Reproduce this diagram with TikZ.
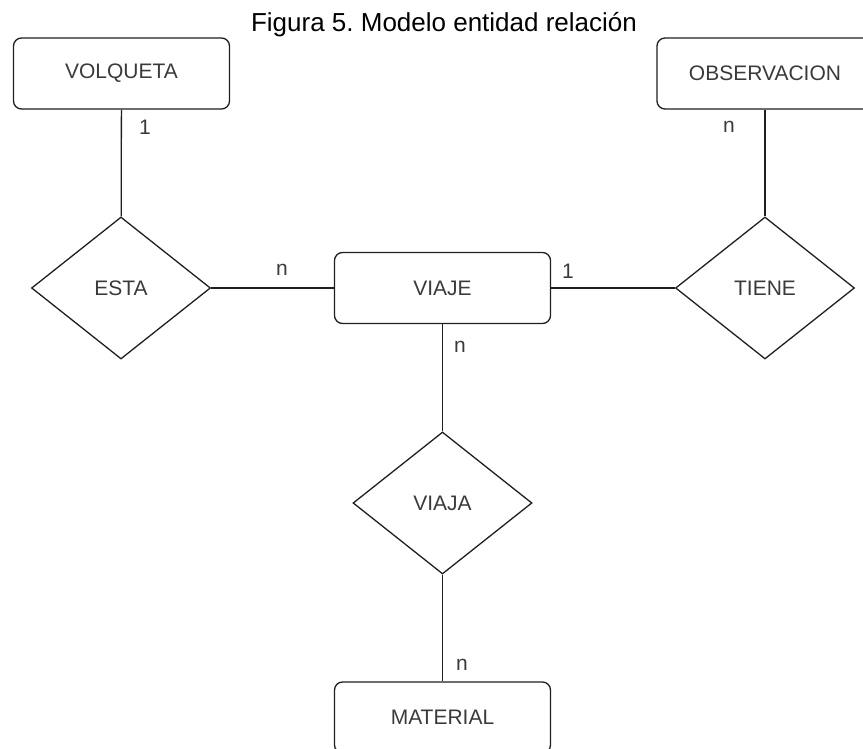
\documentclass[tikz,border=0pt]{standalone}
\usepackage{fontspec}
\setmainfont{Liberation Sans}
\usepackage{xcolor}
\usetikzlibrary{shapes.geometric}
\frenchspacing
\definecolor{linegray}{HTML}{1F1F1F}
\definecolor{textgray}{HTML}{3A3A3A}
\tikzset{
		every node/.style={font=\fontsize{21}{25}\selectfont},
		entity/.style={draw=linegray, line width=1.3pt, rounded corners=8pt, minimum width=216pt, minimum height=71pt, text=textgray},
		relation/.style={draw=linegray, line width=1.3pt, diamond, inner sep=0pt, minimum width=179pt, minimum height=142pt, text=textgray},
		card/.style={inner sep=0pt, text=textgray},
		link/.style={draw=linegray, line width=1.3pt}
	}

\begin{document}
\begin{tikzpicture}[x=1pt,y=-1pt]
				\clip (0,0) rectangle (863,749);
				\node[anchor=base, font=\fontsize{26}{30}\selectfont] (title) at (444,32) {Figura 5. Modelo entidad relación};
				\node[entity]   (volqueta)    at (121.5,73.5) {VOLQUETA};
				\node[entity]   (observacion) at (765,73.5)   {OBSERVACION};
				\node[relation] (esta)        at (121,288)    {ESTA};
				\node[entity]   (viaje)       at (442.5,288)  {VIAJE};
				\node[relation] (tiene)       at (765,288)    {TIENE};
				\node[relation] (viaja)       at (442.5,503)  {VIAJA};
				\node[entity]   (material)    at (442.5,717.5){MATERIAL};
				\path[link] (volqueta) -- (esta);
				\path[link] (esta) -- (viaje);
				\path[link] (viaje) -- (tiene);
				\path[link] (observacion) -- (tiene);
				\path[link] (viaje) -- (viaja);
				\path[link] (viaja) -- (material);
				\node[card] (c1) at (145,127) {1};
				\node[card] (c2) at (282,270) {n};
				\node[card] (c3) at (568,271) {1};
				\node[card] (c4) at (460,347) {n};
				\node[card] (c5) at (729,127) {n};
				\node[card] (c6) at (462,665) {n};
			\end{tikzpicture}
\end{document}
